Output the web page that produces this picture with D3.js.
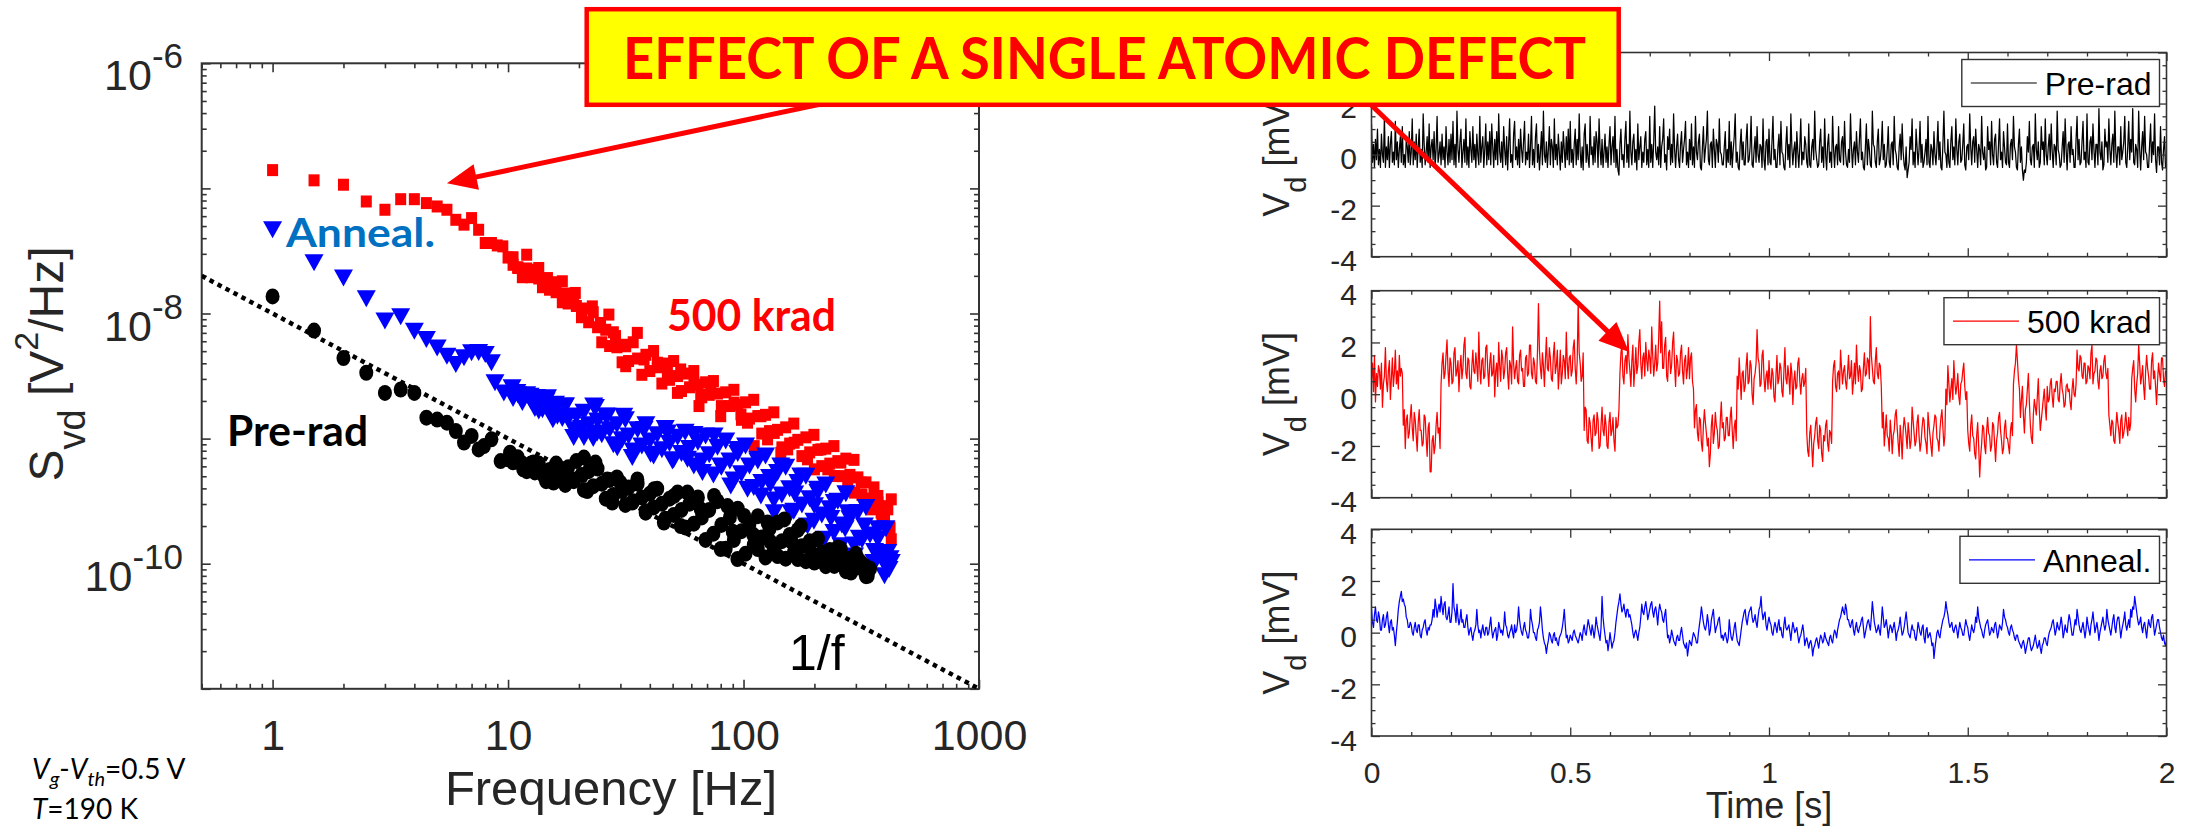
<!DOCTYPE html>
<html>
<head>
<meta charset="utf-8">
<script src="https://cdn.jsdelivr.net/npm/d3@7"></script>
<style>
  html, body { margin: 0; padding: 0; background: #ffffff; }
  svg { display: block; }
</style>
</head>
<body>
<svg id="fig" width="2189" height="832"></svg>
<script>
// ---------------- spectra: S_vd vs frequency ----------------
const FREQ_DOMAIN = [0.5, 1000];          // Hz
const PSD_DOMAIN = [1e-11, 1e-6];         // V^2/Hz
const FREQ_TICK_LABELS = ["1", "10", "100", "1000"];
const PSD_LABELED_DECADES = [1e-10, 1e-8, 1e-6];

// 500 krad (red squares), individually resolved points
const freq500 = [1,1.5,2,2.5,3,3.5,4,4.5,5,5.5,6,6.5,7,7.5,8,8.5,9,9.5,10,10.5,
  11,12,12.4,13.5,14.7,15.4,17,19.3,20.6,22.8,24.7,26.8,28.6,31.6,31.6,35.4,37.8,43.1,47.5,52.4,
  54.1,61.6,64.7,65.8,72.6,80,91.2,97.5,104,111,118.5,126.5,135,144,154,164,187,200,213,228,
  243,259,277,296,316,337,348,372,384,397,410,417,424,424];
const svd500 = [1.40e-7,1.16e-7,1.07e-7,7.86e-8,6.75e-8,8.2e-8,8.2e-8,7.63e-8,7.17e-8,6.75e-8,
  5.61e-8,5.13e-8,5.79e-8,4.67e-8,3.66e-8,3.66e-8,3.5e-8,3.44e-8,2.8e-8,2.45e-8,
  2.31e-8,2.95e-8,2.17e-8,2.31e-8,1.92e-8,1.65e-8,1.81e-8,1.46e-8,1.04e-8,1.14e-8,
  8.4e-9,9.8e-9,6.6e-9,5.47e-9,3.79e-9,7.0e-9,4.29e-9,4.04e-9,3.36e-9,2.32e-9,
  3.57e-9,2.79e-9,1.82e-9,2.25e-9,2.47e-9,1.51e-9,1.94e-9,1.56e-9,1.34e-9,8.71e-10,
  1.51e-9,9.86e-10,1.11e-9,7.71e-10,8.2e-10,9.27e-10,6.83e-10,5.68e-10,8.2e-10,5.68e-10,
  5.02e-10,6.43e-10,4.45e-10,3.70e-10,4.45e-10,3.27e-10,2.72e-10,3.48e-10,2.56e-10,2.26e-10,
  2.72e-10,1.88e-10,3.27e-10,1.57e-10];

// Annealed (blue down-triangles), individually resolved points
const freqAnneal = [1,1.5,2,2.5,3,3.5,4,4.5,5,5.5,6,6.5,7,7.5,8,8.5,8.8,9.6,10.4,10.9,
  11.5,12.4,13.2,13.5,14.7,15.9,16.2,17.5,19,21,23.1,23.5,23.9,26.4,29.1,31,33.7,37.8,40.3,47.5,
  49.9,57.8,61.6,66.9,75,80,88.3,94.2,104,115,118.5,130,135,144,159,165,175,187,200,206,
  220,235,243,259,270,277,296,310,326,348,360,372,390,397,410,415,424];
const svdAnneal = [4.67e-8,2.54e-8,1.92e-8,1.31e-8,8.7e-9,9.4e-9,7.2e-9,6.2e-9,5.31e-9,4.55e-9,
  3.91e-9,4.42e-9,4.85e-9,4.88e-9,4.70e-9,4.04e-9,2.79e-9,2.32e-9,2.55e-9,2.34e-9,
  1.94e-9,2.18e-9,2.13e-9,1.66e-9,2.12e-9,1.88e-9,1.51e-9,1.82e-9,1.02e-9,1.02e-9,
  1.82e-9,1.77e-9,1.11e-9,1.51e-9,8.46e-10,1.51e-9,7.05e-10,1.18e-9,7.48e-10,1.11e-9,
  6.61e-10,6.83e-10,1.08e-9,5.35e-10,1.05e-9,6.04e-10,4.18e-10,8.2e-10,3.94e-10,6.83e-10,
  3.48e-10,4.3e-10,2.56e-10,6.04e-10,2.56e-10,3.6e-10,5.02e-10,2.0e-10,2.9e-10,3.94e-10,
  1.57e-10,2.3e-10,3.08e-10,1.39e-10,1.9e-10,2.56e-10,1.15e-10,1.6e-10,2.0e-10,9.0e-11,
  1.25e-10,1.57e-10,1.05e-10,8.0e-11,1.23e-10,9.0e-11,1.02e-10];

// Pre-rad (black circles), individually resolved points
const freqPre = [1,1.5,2,2.5,3,3.5,4,4.5,5,5.5,6,6.5,7,7.5,7.9,8.5,9.3,10,10.2,11.6,
  12.8,14.2,15.6,17.2,19,21,21.7,23.5,26.4,27.7,30,33.7,35.4,38.4,41.7,45.9,50.7,54.1,57.8,65.8,
  75,80,85.5,90,94.2,100.6,110,115,126.5,130,139.6,149,160,170,175,190,200,206,230,243,
  259,270,286,300,316,330,337];
const svdPre = [1.37e-8,7.3e-9,4.4e-9,3.36e-9,2.32e-9,2.47e-9,2.32e-9,1.47e-9,1.42e-9,1.34e-9,
  1.15e-9,9.3e-10,1.05e-9,8.2e-10,8.71e-10,9.86e-10,6.61e-10,6.83e-10,7.71e-10,5.68e-10,
  6.43e-10,5.02e-10,4.45e-10,5.68e-10,4.72e-10,7.05e-10,3.81e-10,6.43e-10,4.72e-10,3.08e-10,
  4.45e-10,3.08e-10,4.72e-10,2.56e-10,3.94e-10,2.13e-10,3.48e-10,2.0e-10,3.7e-10,2.72e-10,
  3.48e-10,1.31e-10,2.89e-10,1.8e-10,1.09e-10,2.41e-10,1.7e-10,1.31e-10,2.13e-10,1.5e-10,
  1.15e-10,2.26e-10,1.5e-10,1.09e-10,2.0e-10,1.35e-10,1.02e-10,1.57e-10,1.2e-10,9.6e-11,
  1.31e-10,1.05e-10,8.5e-11,1.2e-10,1.02e-10,9.5e-11,8.0e-11];

// dense high-frequency part of the spectra (common frequency grid, log10 of S_vd)
const bandFreq = [10.5,11,11.5,12,12.5,13,13.5,14,14.5,15,
  15.5,16,17,17.5,18,19,19.5,20.5,21,22,
  23,24,25,26,27,28,29,30.5,31.5,32.5,
  34,35.5,37,38.5,40,41.5,43,45,46.5,48.5,
  50.5,52.5,54.5,56.5,59,61.5,64,66.5,69,71.5,
  74.5,77.5,80.5,84,87.5,91,94.5,98,102,106,
  110.5,115,119.5,124,129,134.5,139.5,145.5,151,157,
  163.5,170,177,184,191,199,207,215,223.5,232.5,
  242,251.5,261.5,272,283,294.5,306,318.5,331,344.5,
  358,372.5,387,402.5,419];
const bandLog500 = [-7.55,-7.63,-7.71,-7.64,-7.71,-7.65,-7.72,-7.79,-7.74,-7.81,
  -7.75,-7.83,-7.91,-7.84,-7.92,-7.85,-7.94,-8.03,-7.96,-8.07,
  -7.99,-8.11,-8.23,-8.13,-8.26,-8.15,-8.27,-8.39,-8.25,-8.38,
  -8.23,-8.36,-8.49,-8.33,-8.46,-8.30,-8.43,-8.56,-8.40,-8.53,
  -8.38,-8.50,-8.62,-8.48,-8.59,-8.46,-8.57,-8.67,-8.55,-8.65,
  -8.54,-8.64,-8.74,-8.63,-8.74,-8.61,-8.73,-8.85,-8.71,-8.84,
  -8.69,-8.82,-8.96,-8.81,-8.94,-8.79,-8.93,-9.07,-8.91,-9.04,
  -8.88,-9.01,-9.14,-8.99,-9.11,-8.97,-9.09,-9.22,-9.08,-9.20,
  -9.06,-9.18,-9.30,-9.16,-9.29,-9.17,-9.31,-9.45,-9.35,-9.48,
  -9.39,-9.51,-9.63,-9.54,-9.71];
const bandLogAnneal = [-8.68,-8.65,-8.69,-8.65,-8.70,-8.76,-8.70,-8.77,-8.70,-8.77,
  -8.85,-8.76,-8.84,-8.74,-8.84,-8.93,-8.82,-8.92,-8.79,-8.89,
  -9.00,-8.86,-8.97,-8.82,-8.93,-9.05,-8.89,-9.01,-8.85,-8.98,
  -9.10,-8.93,-9.06,-8.89,-9.02,-9.14,-8.97,-9.09,-8.92,-9.04,
  -9.17,-8.99,-9.12,-8.95,-9.08,-9.22,-9.03,-9.18,-8.98,-9.13,
  -9.29,-9.07,-9.23,-9.02,-9.18,-9.33,-9.12,-9.28,-9.06,-9.22,
  -9.39,-9.18,-9.35,-9.14,-9.31,-9.49,-9.27,-9.45,-9.23,-9.40,
  -9.58,-9.35,-9.53,-9.30,-9.48,-9.66,-9.43,-9.61,-9.37,-9.56,
  -9.75,-9.50,-9.69,-9.44,-9.64,-9.85,-9.59,-9.81,-9.55,-9.77,
  -9.99,-9.72,-9.94,-9.72,-9.96];
const bandLogPre = [-9.19,-9.15,-9.20,-9.26,-9.20,-9.27,-9.20,-9.27,-9.34,-9.25,
  -9.32,-9.20,-9.28,-9.37,-9.23,-9.34,-9.18,-9.29,-9.41,-9.26,
  -9.38,-9.24,-9.36,-9.48,-9.33,-9.45,-9.31,-9.42,-9.53,-9.39,
  -9.50,-9.36,-9.47,-9.58,-9.44,-9.55,-9.40,-9.52,-9.64,-9.48,
  -9.61,-9.43,-9.57,-9.71,-9.52,-9.68,-9.47,-9.63,-9.81,-9.57,
  -9.76,-9.50,-9.69,-9.88,-9.63,-9.81,-9.56,-9.74,-9.92,-9.68,
  -9.85,-9.62,-9.79,-9.95,-9.72,-9.88,-9.67,-9.82,-9.96,-9.77,
  -9.91,-9.73,-9.86,-9.98,-9.82,-9.94,-9.80,-9.91,-10.02,-9.89,
  -9.99,-9.87,-9.97,-10.06,-9.96,-10.04,-9.96,-10.04,-10.10,-10.04];

// 1/f reference line end points
const oneOverFFreq = [0.5, 1000];
const oneOverFSvd = [2e-8, 1e-11];

// ---------------- drain-voltage time traces (0 to 2 s, evenly sampled) ----------------
const TIME_DOMAIN = [0, 2];               // s
const VD_DOMAIN = [-4, 4];                // mV
const TIME_TICK_LABELS = ["0", "0.5", "1", "1.5", "2"];
const VD_TICK_LABELS = ["-4", "-2", "0", "2", "4"];

const vdPre = [
  1.2,-0.3,0.4,-0.5,0.6,-0.2,1.0,-0.4,0.2,-0.5,0.8,0.0,-0.3,1.5,-0.5,0.3,-0.2,0.7,-0.5,0.4,0.9,-0.3,0.1,-0.4,1.3,-0.2,0.5,-0.5,0.2,0.7,-0.3,1.1,-0.4,0.0,-0.5,0.6,0.3,-0.3,0.9,-0.4,
  0.1,1.4,-0.4,0.5,-0.2,0.8,-0.5,0.3,1.0,-0.3,0.2,-0.5,1.6,0.4,-0.4,0.1,0.7,-0.3,1.2,-0.5,0.3,0.6,-0.2,0.9,-0.5,0.2,1.5,-0.3,0.0,0.5,-0.4,0.8,-0.2,0.3,-0.5,1.1,0.1,-0.4,0.6,-0.3,
  0.8,-0.2,1.3,-0.4,0.4,-0.5,1.7,0.2,-0.3,0.5,1.0,-0.5,0.1,0.6,-0.3,1.4,-0.4,0.3,-0.5,0.9,0.2,-0.3,1.1,-0.2,0.4,-0.5,0.8,0.0,-0.4,1.5,-0.3,0.3,0.7,-0.5,0.2,1.2,-0.4,0.5,-0.2,0.9,
  -0.4,1.2,0.3,-0.5,0.6,-0.2,0.9,-0.4,1.6,0.1,-0.3,0.5,-0.5,1.1,0.2,-0.4,0.7,-0.6,0.4,1.4,-0.3,0.0,-0.5,0.8,1.3,-0.2,0.3,-0.4,0.6,-0.5,1.0,0.2,-0.3,0.5,1.3,-0.4,0.1,-0.2,0.8,-0.5,
  0.3,1.5,-0.4,0.2,-0.5,0.7,1.2,-0.3,0.4,-0.6,0.1,0.9,-0.4,1.7,0.0,-0.3,0.5,-0.5,0.2,1.1,-0.4,0.6,0.3,-0.5,1.4,-0.2,0.4,-0.4,0.8,0.1,-0.6,0.5,-0.3,0.9,0.2,-0.5,0.7,-0.2,1.0,-0.4,
  1.3,-0.3,0.2,-0.5,0.4,1.0,-0.4,0.6,-0.2,1.6,0.1,-0.5,0.3,-0.6,0.8,1.2,-0.3,0.4,-0.2,-0.5,1.5,0.0,0.3,-0.4,0.7,-0.3,0.9,0.5,-0.5,1.4,0.2,-0.4,0.6,-0.5,0.1,0.8,-0.3,0.3,-0.5,0.4,
  1.1,-0.4,0.3,0.7,-0.3,1.5,-0.5,0.2,-0.6,-0.8,0.4,1.0,-0.2,0.0,-0.5,0.6,1.3,-0.3,0.4,-0.5,1.7,0.1,-0.4,0.5,0.8,-0.3,0.2,-0.6,1.2,-0.2,0.3,0.7,-0.5,0.1,-0.3,0.6,0.9,-0.4,0.2,-0.5,
  1.5,-0.3,0.4,-0.5,0.5,1.9,0.1,-0.2,0.3,-0.4,1.1,-0.5,0.3,0.6,1.4,-0.3,0.0,-0.6,0.7,0.2,1.0,-0.4,0.4,-0.3,1.6,0.2,-0.5,0.3,0.8,-0.2,-0.5,0.4,0.9,-0.3,0.2,0.6,1.3,-0.4,0.1,-0.5,
  0.6,-0.2,1.2,-0.4,0.3,-0.5,1.5,0.1,-0.2,0.5,0.8,-0.5,-0.6,0.3,1.1,-0.3,0.2,0.6,1.7,-0.2,-0.4,0.4,0.5,-0.5,1.0,0.2,-0.5,0.6,0.4,-0.3,1.4,0.1,0.0,-0.4,-0.4,0.3,0.9,-0.5,0.2,-0.3,
  1.3,-0.4,0.5,-0.5,0.2,0.7,1.6,-0.3,0.1,-0.5,-0.6,0.4,1.0,-0.2,0.5,-0.4,-0.4,0.6,1.2,-0.3,-0.2,0.3,1.5,-0.4,-0.5,0.2,0.7,-0.3,1.1,0.0,-0.3,0.4,0.3,-0.5,1.4,-0.2,-0.6,0.5,0.6,-0.4,
  1.0,-0.3,-0.4,0.5,1.5,-0.2,0.2,-0.5,-0.5,0.3,0.8,-0.4,1.3,0.1,0.0,-0.5,-0.6,0.4,1.1,-0.2,0.4,-0.5,1.6,0.3,-0.4,0.2,0.5,-0.5,0.9,0.1,-0.5,0.3,1.4,-0.4,0.1,-0.2,0.7,0.4,-0.3,-0.5,
  1.2,-0.4,-0.5,0.3,0.6,-0.2,1.7,0.2,-0.2,-0.5,-0.4,0.5,1.0,-0.3,0.3,-0.5,1.4,0.0,-0.6,0.4,0.8,-0.3,0.1,-0.5,1.5,0.2,-0.5,0.3,0.4,-0.4,1.1,-0.2,-0.3,0.5,0.7,-0.4,1.3,0.1,-0.4,-0.5,
  0.2,-0.3,1.6,0.3,-0.5,0.2,0.5,-0.4,0.9,0.1,-0.3,0.6,1.4,-0.2,0.1,-0.5,-0.6,0.3,1.2,-0.4,0.6,0.2,-0.4,-0.5,1.7,0.4,0.3,-0.3,-0.5,0.5,1.0,-0.4,-0.2,0.3,1.3,-0.2,0.4,-0.5,-0.4,0.2,
  1.1,-0.3,-0.5,0.4,0.5,-0.4,1.5,0.2,0.0,-0.5,-0.6,0.3,0.8,-0.2,1.2,0.1,-0.4,-0.6,0.3,-0.9,-0.6,-0.3,0.7,0.2,1.4,-0.4,0.1,-0.5,1.0,0.3,-0.4,0.2,1.3,-0.3,0.4,-0.5,-0.3,0.1,0.6,-0.4,
  1.5,-0.3,-0.5,0.4,0.2,-0.4,0.9,0.0,-0.4,0.3,1.3,-0.2,0.5,-0.5,-0.6,0.4,1.7,0.1,0.0,-0.5,0.6,-0.3,-0.5,0.5,1.1,-0.2,0.3,-0.4,1.4,0.2,-0.4,0.5,0.8,-0.3,-0.2,0.4,1.2,-0.4,-0.6,0.3,
  0.4,-0.2,1.6,0.3,-0.4,0.5,0.7,-0.3,1.0,0.2,-0.5,0.4,0.2,-0.4,1.5,0.1,-0.2,0.3,-0.6,-0.5,1.1,0.2,0.5,-0.4,1.3,0.0,-0.4,0.6,0.8,-0.3,-0.5,0.4,1.4,-0.2,0.1,-0.5,0.9,0.3,-0.3,-0.4,
  1.2,-0.3,-0.5,0.4,0.6,-0.2,1.5,0.3,0.1,-0.5,-0.6,0.4,1.0,-0.3,0.3,-0.6,-1.0,-0.6,-0.7,-0.3,0.7,0.1,1.3,-0.2,-0.4,0.3,0.4,-0.5,1.6,0.2,-0.2,0.5,-0.5,-0.3,1.1,0.2,0.5,-0.4,1.4,0.0,
  -0.4,0.3,0.8,-0.2,1.2,0.1,-0.5,0.4,0.3,-0.4,1.7,0.2,0.0,-0.5,-0.4,0.3,0.9,-0.3,1.4,0.2,-0.6,0.4,0.5,-0.3,1.1,0.0,0.2,-0.5,-0.5,0.6,1.5,-0.2,0.6,-0.4,-0.3,0.5,1.3,-0.2,0.1,-0.5,
  1.6,-0.3,-0.4,0.5,0.7,-0.2,1.2,0.2,-0.5,0.4,0.4,-0.4,1.8,0.1,-0.2,0.5,-0.6,-0.4,1.0,0.3,0.5,-0.3,1.4,0.2,-0.4,0.4,0.8,-0.3,1.7,0.1,-0.5,0.3,0.3,-0.4,1.1,-0.2,0.1,0.5,1.5,-0.3,
  -0.5,0.3,1.3,-0.2,0.6,0.1,1.8,-0.3,-0.4,0.4,0.2,-0.5,1.7,0.2,-0.6,0.3,0.9,-0.2,1.5,0.1,0.0,-0.5,-0.5,0.4,1.2,-0.3,0.5,0.0,1.6,-0.2,-0.7,0.3,0.3,-0.4,1.1,-0.3,-0.6,0.2,0.7,-0.5,
  -0.4];

const vd500 = [
  0.6,1.2,0.1,1.5,-0.3,0.8,0.3,1.1,0.9,0.2,1.2,-0.5,0.4,0.7,1.8,0.5,0.1,0.9,1.3,-0.2,0.6,1.4,0.3,0.8,1.7,0.4,0.9,0.2,1.5,0.7,1.0,0.8,-1.2,-0.6,-2.1,-1.0,-0.8,-1.7,-1.5,-0.9,
  -0.4,-1.3,-1.8,-0.7,-1.0,-1.6,-2.2,-1.1,-0.6,-1.4,-1.4,-2.0,-1.9,-0.8,-0.9,-1.7,-2.4,-1.3,-1.1,-3.0,-3.0,-1.8,-1.6,-2.3,-2.0,-1.2,-0.7,-1.5,-1.3,-2.1,0.4,1.2,1.6,0.6,0.8,1.5,2.1,0.9,0.3,1.4,
  1.2,0.4,0.5,1.6,1.8,0.7,0.9,1.3,0.1,1.0,1.5,0.6,1.0,1.9,2.2,0.8,0.6,1.4,1.3,0.3,0.2,1.1,1.7,0.9,0.8,1.6,1.1,0.5,2.4,1.0,0.4,1.3,1.4,0.6,0.7,1.8,1.9,0.9,0.3,1.2,
  1.6,0.7,0.8,1.5,-0.1,0.9,1.2,0.3,2.0,1.1,0.5,1.7,1.4,0.6,0.9,1.6,1.8,0.8,0.2,1.3,1.1,0.4,2.6,1.2,0.6,1.0,1.3,0.5,0.4,1.5,1.7,0.9,1.0,0.3,0.3,1.4,1.5,0.7,0.8,1.9,
  1.9,0.8,0.6,1.4,1.2,0.5,0.4,1.6,3.5,1.7,1.0,0.6,1.6,1.1,0.3,1.3,2.2,1.0,0.9,1.8,1.4,0.6,0.5,1.5,2.0,0.8,1.1,1.7,0.2,0.9,1.7,0.4,0.8,1.5,1.3,0.6,2.4,1.2,0.6,1.4,
  1.5,0.7,0.9,1.8,2.1,1.0,0.4,1.3,3.6,1.6,1.2,0.5,0.7,1.6,-1.4,-0.5,-0.6,-1.8,-1.9,-0.9,-1.1,-1.7,-2.2,-1.0,-0.8,-1.6,-1.5,-0.7,-1.0,-2.1,-2.0,-1.2,-0.5,-1.4,-1.6,-0.8,-1.2,-2.0,-2.1,-1.1,
  -0.7,-1.6,-1.4,-0.9,-1.8,-2.2,-0.9,-1.3,-1.2,-0.6,0.8,1.6,1.9,0.7,0.4,1.3,1.5,0.8,2.3,1.4,0.9,0.3,1.3,1.9,0.3,1.0,1.8,0.8,1.1,2.0,2.5,1.2,0.6,1.4,1.6,0.7,2.0,1.3,0.9,1.7,
  1.4,0.8,2.6,1.5,0.7,1.2,1.9,0.9,1.2,2.2,3.6,1.6,2.8,1.0,1.0,1.9,2.2,0.7,0.5,1.6,1.7,0.8,1.1,2.0,2.4,1.1,0.3,1.5,1.3,0.7,0.8,1.6,1.9,0.9,0.4,1.3,1.5,0.6,1.0,1.8,
  0.6,1.4,1.6,0.5,0.2,-1.3,-0.6,-0.4,-1.5,-1.8,-0.9,-1.0,-1.9,-2.2,-1.2,-0.6,-1.1,-1.5,-2.0,-1.7,-2.8,-2.3,-1.2,-0.8,-1.9,-1.5,-0.7,-1.2,-1.4,-2.1,-2.0,-1.0,-0.3,-1.3,-1.1,-1.8,-1.7,-0.9,-0.9,-1.6,
  -1.6,-0.9,-0.5,-1.4,-2.1,-1.3,-1.0,-1.8,0.7,0.2,1.4,0.6,-0.2,0.8,0.9,0.1,0.3,1.1,1.6,0.4,0.5,1.3,1.1,0.0,-0.4,0.6,0.8,1.2,2.5,1.4,1.2,0.3,0.4,1.5,1.7,0.6,0.1,0.7,0.9,0.2,
  1.3,0.5,0.2,1.0,0.8,-0.1,-0.3,0.7,1.5,0.4,0.6,1.2,1.0,0.1,-0.1,0.9,1.8,0.6,0.4,1.1,0.7,0.0,1.2,0.8,-0.4,0.5,0.9,0.2,0.3,1.2,1.4,0.5,0.0,0.6,0.8,0.3,0.5,1.0,-1.5,-2.2,
  -2.4,-1.5,-1.2,-2.0,-2.8,-1.9,-1.6,-1.1,-0.9,-1.8,-2.1,-1.2,-1.4,-2.3,-2.6,-1.6,-1.8,-1.2,-1.0,-1.9,-2.2,-1.4,-1.5,-1.9,0.5,1.1,1.3,0.3,0.1,0.8,0.9,0.2,1.7,1.0,0.4,0.9,1.1,0.5,0.2,0.8,
  1.5,0.6,0.7,1.3,0.0,0.5,1.2,0.4,1.9,1.0,0.5,1.1,0.9,0.1,0.2,1.0,1.6,0.7,0.8,1.4,1.3,0.6,3.0,1.5,1.0,0.5,0.4,1.3,1.8,0.8,0.6,1.2,1.1,0.3,-1.3,-0.7,-2.0,-1.4,-0.8,-1.6,
  -1.7,-2.2,-1.0,-1.5,-2.3,-1.6,-1.4,-0.8,-0.6,-1.3,-1.9,-2.4,-1.2,-1.7,-2.5,-1.4,-0.9,-1.2,-1.6,-2.1,-1.1,-1.5,-2.1,-1.8,-0.5,-1.0,-1.5,-2.0,-1.8,-1.1,-0.8,-1.6,-2.2,-1.9,-1.3,-0.9,-1.0,-1.7,-1.9,-2.3,
  -0.7,-1.2,-1.6,-2.0,-2.4,-1.5,-1.2,-0.8,-0.9,-1.7,-1.8,-2.2,-1.4,-0.9,-0.6,-1.3,-2.0,-1.6,0.2,-0.4,1.1,0.4,-0.3,0.2,0.6,-0.2,1.3,0.5,0.0,0.3,0.8,-0.1,-0.4,0.4,0.5,0.9,1.2,0.3,-0.2,0.1,
  -1.4,-1.9,-2.2,-1.2,-0.8,-1.6,-1.7,-2.3,-2.5,-1.6,-1.1,-2.0,-3.2,-2.4,-1.9,-1.2,-1.3,-2.0,-2.3,-1.4,-0.9,-1.5,-1.6,-2.2,-2.0,-1.1,-1.2,-1.9,-2.6,-1.8,-1.5,-0.9,-0.7,-1.4,-1.8,-2.3,-2.1,-1.3,-1.0,-1.7,
  -1.7,-2.0,-2.3,-1.4,-1.1,-1.6,0.4,0.9,1.2,1.9,1.3,0.6,0.2,-0.9,-0.2,0.3,-0.8,-1.5,-0.6,-0.4,0.2,0.8,-0.3,-1.2,-1.7,-1.9,-0.8,-0.2,-0.5,-0.8,-0.1,0.6,-0.6,-1.4,-1.0,-0.6,-0.2,0.2,-0.5,-1.0,
  0.3,-0.3,-0.2,0.4,0.6,-0.1,-0.5,0.2,0.1,0.5,0.5,-0.2,-0.3,0.4,0.8,0.2,0.0,-0.5,-0.4,0.3,0.4,0.1,0.2,-0.3,-0.6,0.2,0.6,0.0,-0.1,0.4,1.7,1.0,0.9,1.5,1.4,0.7,0.6,1.2,1.2,0.4,
  0.5,1.1,1.0,0.6,1.6,1.9,0.4,0.8,0.9,1.4,1.3,0.5,0.2,0.9,1.1,0.6,0.7,1.3,1.5,0.8,0.6,1.0,-0.8,-1.2,-1.6,-1.0,-1.1,-1.8,-1.9,-1.3,-0.7,-1.1,-1.4,-1.9,-1.0,-0.8,-1.7,-1.5,-1.2,-0.7,
  -1.2,-1.6,-0.9,-1.4,-1.1,0.6,1.0,1.3,0.2,-0.3,0.4,0.8,1.9,1.2,0.4,0.7,1.1,0.3,-0.2,0.9,1.5,1.0,0.7,0.2,0.2,1.3,1.6,0.6,0.9,0.3,-0.4,0.5,1.2,0.8,0.5,1.4,1.4,0.6,0.3,0.9,
  0.8];

const vdAnneal = [
  0.9,0.4,0.2,0.7,1.0,0.5,0.4,0.8,0.6,0.1,0.1,0.5,0.7,0.2,0.3,0.6,0.8,0.3,0.0,0.4,0.5,0.1,0.2,-0.1,-0.5,0.0,0.4,0.9,1.2,1.4,1.6,1.2,1.3,1.1,1.0,0.6,0.5,0.2,0.2,0.4,
  0.3,0.0,-0.1,0.2,0.4,0.1,0.0,0.3,0.3,-0.1,-0.2,0.1,0.2,0.4,0.5,0.1,-0.1,0.2,0.1,0.3,0.3,0.5,0.9,0.6,1.3,1.0,0.6,0.9,1.1,0.8,1.4,1.0,0.7,1.1,1.2,0.6,0.5,0.7,1.0,0.4,
  0.4,0.8,1.9,1.0,0.8,0.4,1.1,0.6,0.3,0.5,0.9,0.4,0.5,0.2,0.2,0.5,0.7,0.2,-0.1,0.1,0.2,-0.1,-0.3,0.0,0.1,0.3,0.9,0.3,0.0,0.1,-0.2,0.1,0.3,0.0,-0.1,0.2,0.2,-0.1,0.0,0.3,
  0.6,0.1,-0.2,0.0,0.1,0.2,-0.3,-0.1,0.4,0.2,0.0,0.1,-0.1,0.2,0.8,0.3,0.2,-0.1,-0.2,0.0,0.1,0.3,0.0,-0.2,0.3,0.0,0.1,0.4,1.0,0.5,0.2,0.0,-0.1,0.2,0.4,0.1,0.0,-0.2,-0.2,0.1,
  0.9,0.5,0.3,0.0,0.0,-0.2,-0.3,0.1,0.2,0.4,1.0,0.6,0.1,-0.2,-0.4,-0.5,-0.8,-0.5,-0.3,0.0,-0.1,-0.3,-0.4,-0.1,0.0,-0.3,-0.2,-0.4,-0.5,-0.2,-0.1,0.0,0.2,0.5,0.9,0.3,-0.2,-0.1,-0.4,-0.3,
  -0.1,-0.2,-0.3,0.0,0.1,-0.1,-0.2,-0.3,-0.4,-0.2,0.0,-0.1,-0.3,0.1,0.3,0.0,-0.1,0.2,0.5,0.3,0.1,-0.1,0.3,0.1,-0.2,0.1,0.6,0.3,0.1,-0.1,-0.3,0.2,1.4,0.6,0.2,-0.1,-0.4,-0.3,-0.7,-0.4,
  0.0,-0.3,-0.6,-0.4,-0.3,0.0,0.4,0.7,1.0,1.2,1.5,1.1,0.8,0.9,1.1,0.8,0.6,0.9,0.9,0.6,0.7,0.5,0.3,0.0,-0.2,0.0,0.1,-0.1,-0.3,0.0,0.2,0.6,1.1,0.8,0.7,1.0,1.2,0.9,0.5,0.7,
  0.9,1.1,1.2,0.8,0.6,0.9,1.0,0.7,0.3,0.8,1.1,0.9,0.8,0.5,0.4,0.7,0.9,0.3,-0.2,-0.1,-0.4,-0.2,0.1,-0.1,-0.3,-0.4,-0.5,-0.2,-0.1,-0.3,-0.3,0.0,0.2,-0.1,-0.4,-0.5,-0.6,-0.4,-0.9,-0.6,
  -0.3,-0.4,-0.5,-0.2,0.0,-0.1,-0.2,-0.4,-0.4,0.0,0.3,0.6,1.0,0.7,0.4,0.2,0.1,0.3,0.7,0.4,-0.1,0.1,0.5,0.7,0.9,0.4,0.0,0.2,0.3,0.5,0.6,0.2,-0.2,-0.1,-0.3,-0.1,0.0,-0.2,-0.4,-0.2,
  0.5,0.1,-0.2,-0.3,-0.1,0.2,0.4,0.0,-0.3,-0.4,-0.5,-0.2,0.1,0.4,0.6,0.8,0.9,0.5,0.3,0.6,0.8,0.9,1.0,0.6,0.4,0.5,0.7,0.4,0.2,0.6,0.9,1.0,1.4,0.8,0.5,0.7,0.8,0.3,0.1,0.4,
  0.6,0.4,0.3,0.0,-0.1,0.2,0.4,0.2,0.0,0.3,0.5,0.1,0.2,-0.1,-0.2,0.3,0.6,0.2,0.1,0.2,0.3,0.0,-0.3,0.1,0.4,0.2,0.0,0.1,0.2,-0.1,-0.4,-0.2,-0.1,0.1,0.3,0.0,-0.5,-0.3,-0.2,-0.4,
  -0.6,-0.4,-0.3,-0.5,-0.9,-0.6,-0.5,-0.3,-0.2,-0.4,-0.6,-0.3,-0.1,-0.2,-0.4,-0.3,0.0,-0.2,-0.3,-0.4,-0.5,-0.2,-0.1,-0.3,-0.4,-0.1,0.1,0.0,-0.2,0.1,0.3,0.5,0.6,0.8,1.0,0.8,0.7,1.1,0.9,0.5,
  0.5,0.3,0.2,0.4,0.5,0.1,-0.1,0.2,0.4,0.1,0.0,0.2,0.3,0.5,0.6,0.2,-0.2,0.0,0.2,0.4,0.5,0.3,0.1,0.6,1.2,0.8,0.4,0.2,0.0,0.1,0.3,0.1,-0.1,0.4,1.0,0.6,0.2,0.3,0.5,0.2,
  -0.2,0.1,0.3,0.2,0.0,0.2,0.4,0.1,-0.3,0.0,0.1,0.3,0.6,0.2,-0.1,0.0,0.2,0.5,0.8,0.4,0.0,-0.1,-0.2,0.1,0.3,0.1,0.1,-0.2,-0.3,0.0,0.4,0.2,0.0,-0.1,0.2,0.3,-0.2,-0.4,0.1,0.2,
  -0.2,-0.1,0.0,-0.2,-0.5,-0.4,-1.0,-0.6,-0.3,0.0,0.1,-0.1,-0.2,0.1,0.3,0.5,0.6,0.8,1.2,0.9,0.7,0.4,0.2,0.3,0.4,0.1,0.0,0.2,0.3,0.1,-0.2,0.1,0.4,0.2,0.1,-0.1,-0.1,0.2,0.5,0.3,
  0.2,-0.1,-0.3,0.0,0.3,0.1,0.0,0.2,0.6,0.4,1.0,0.6,0.4,0.2,0.1,-0.1,-0.2,0.1,0.3,0.4,0.5,0.2,-0.1,0.0,0.2,0.1,0.0,0.3,0.4,0.1,-0.2,0.0,0.3,0.2,0.1,0.4,0.9,0.6,0.5,0.3,
  0.2,0.0,-0.1,0.2,0.3,0.1,0.0,-0.2,-0.3,-0.1,-0.1,-0.3,-0.4,-0.5,-0.6,-0.4,-0.3,-0.5,-0.8,-0.6,-0.4,-0.2,-0.2,-0.5,-0.7,-0.6,-0.5,-0.3,-0.1,-0.4,-0.6,-0.5,-0.3,-0.6,-0.8,-0.5,-0.4,-0.2,-0.2,-0.4,
  -0.5,-0.2,0.0,0.1,0.2,0.4,0.5,0.2,-0.1,0.1,0.4,0.2,0.1,0.3,0.6,0.3,-0.2,0.0,0.3,0.1,0.0,0.4,0.7,0.5,0.2,-0.1,-0.1,0.2,0.5,0.3,0.9,0.6,0.3,0.1,0.0,0.2,0.4,0.1,-0.2,0.1,
  0.6,0.3,0.1,-0.1,0.3,0.5,0.8,0.4,0.0,0.2,0.4,0.1,-0.3,0.0,0.2,0.4,0.6,0.3,0.1,0.3,0.9,0.5,0.3,0.1,-0.1,0.2,0.5,0.7,0.2,0.0,0.4,0.6,0.6,0.2,-0.2,0.1,0.3,0.5,0.8,0.3,
  0.1,0.3,0.5,0.2,0.9,0.6,1.0,0.9,1.4,1.1,0.8,0.5,0.3,0.4,0.6,0.2,0.0,0.3,0.4,0.1,-0.2,0.2,0.5,0.3,0.2,0.6,0.7,0.3,-0.1,0.1,0.3,0.5,0.5,0.2,0.0,-0.2,-0.3,-0.1,-0.4,-0.5,
  -0.3];

// ---------------- drawing ----------------
const HELV = "'Liberation Sans', Arial, Helvetica, sans-serif";
const CAL = "Lato, 'Open Sans', 'Noto Sans', sans-serif";
const AXIS_COLOR = "#333333";

const svg = d3.select("#fig");
svg.append("rect").attr("width", 2189).attr("height", 832).attr("fill", "#ffffff");

const isDecade = v => Math.abs(Math.log10(v) - Math.round(Math.log10(v))) < 1e-9;
const zip = (a, b) => d3.range(Math.min(a.length, b.length)).map(i => [a[i], b[i]]);
const zipLog = (a, b) => d3.range(Math.min(a.length, b.length)).map(i => [a[i], Math.pow(10, b[i])]);

// inward ticks on all four sides of a box
function boxTicks(g, xs, ys, box, xVals, yVals, len, width) {
  const parts = [
    [d3.axisBottom(xs).tickValues(xVals), `translate(0,${box.bottom})`],
    [d3.axisTop(xs).tickValues(xVals), `translate(0,${box.top})`],
    [d3.axisLeft(ys).tickValues(yVals), `translate(${box.left},0)`],
    [d3.axisRight(ys).tickValues(yVals), `translate(${box.right},0)`]
  ];
  parts.forEach(([ax, tr]) => {
    const a = g.append("g").attr("transform", tr)
      .call(ax.tickSizeInner(-len).tickSizeOuter(0).tickFormat(""));
    a.select(".domain").remove();
    a.selectAll(".tick line").attr("stroke", AXIS_COLOR).attr("stroke-width", width);
    a.selectAll(".tick text").remove();
  });
}

// ===== spectrum panel =====
const S = { left: 201.7, right: 979, top: 63.3, bottom: 688.8 };
const xF = d3.scaleLog().domain(FREQ_DOMAIN).range([S.left, S.right]);
const yS = d3.scaleLog().domain(PSD_DOMAIN).range([S.bottom, S.top]);

const gS = svg.append("g");
const fAll = xF.ticks(), sAll = yS.ticks();
boxTicks(gS, xF, yS, S, fAll.filter(v => !isDecade(v)), sAll.filter(v => !isDecade(v)), 5, 1.6);
boxTicks(gS, xF, yS, S, fAll.filter(isDecade), sAll.filter(isDecade), 9, 1.6);

gS.append("rect").attr("x", S.left).attr("y", S.top)
  .attr("width", S.right - S.left).attr("height", S.bottom - S.top)
  .attr("fill", "none").attr("stroke", AXIS_COLOR).attr("stroke-width", 2);

// frequency tick labels
const fLab = gS.append("g").attr("transform", `translate(0,${S.bottom})`)
  .call(d3.axisBottom(xF).tickValues(FREQ_TICK_LABELS.map(Number)).tickSize(0)
    .tickFormat((d, i) => FREQ_TICK_LABELS[i]));
fLab.select(".domain").remove();
fLab.selectAll(".tick text").attr("y", 61.2).attr("dy", null)
  .attr("font-family", HELV).attr("font-size", 43).attr("fill", "#262626");

// PSD tick labels with superscript exponents
const sLab = gS.append("g").attr("transform", `translate(${S.left},0)`)
  .call(d3.axisLeft(yS).tickValues(PSD_LABELED_DECADES).tickSize(0).tickFormat(""));
sLab.select(".domain").remove();
sLab.selectAll(".tick text").each(function (d) {
  const t = d3.select(this).attr("x", -18.7).attr("y", 26.5).attr("dy", null)
    .attr("text-anchor", "end").attr("font-family", HELV).attr("fill", "#262626");
  t.append("tspan").attr("font-size", 43).text("10");
  t.append("tspan").attr("font-size", 35).attr("dy", -22)
    .text(String(Math.round(Math.log10(d))).replace("\u2212", "-"));
});

// axis titles
gS.append("text").attr("x", 611).attr("y", 805).attr("text-anchor", "middle")
  .attr("font-family", HELV).attr("font-size", 49).attr("fill", "#262626")
  .text("Frequency [Hz]");

const yt = gS.append("text").attr("transform", "translate(63,364) rotate(-90)")
  .attr("text-anchor", "middle").attr("font-family", HELV).attr("font-size", 48)
  .attr("fill", "#262626");
yt.append("tspan").text("S");
yt.append("tspan").attr("font-size", 38).attr("dy", 22).text("vd");
yt.append("tspan").attr("dy", -22).text(" [V");
yt.append("tspan").attr("font-size", 34).attr("dy", -25).text("2");
yt.append("tspan").attr("dy", 25).text("/Hz]");

// clip for marks
svg.append("clipPath").attr("id", "clipS").append("rect")
  .attr("x", S.left).attr("y", S.top).attr("width", S.right - S.left).attr("height", S.bottom - S.top);
const marks = gS.append("g").attr("clip-path", "url(#clipS)");

// 1/f guide
marks.append("path")
  .datum(zip(oneOverFFreq, oneOverFSvd))
  .attr("d", d3.line().x(d => xF(d[0])).y(d => yS(d[1])))
  .attr("fill", "none").attr("stroke", "#000").attr("stroke-width", 4.5)
  .attr("stroke-dasharray", "4.5,4.5");

const pts500 = zip(freq500, svd500).concat(zipLog(bandFreq, bandLog500));
const ptsAnneal = zip(freqAnneal, svdAnneal).concat(zipLog(bandFreq, bandLogAnneal));
const ptsPre = zip(freqPre, svdPre).concat(zipLog(bandFreq, bandLogPre));

// 500 krad squares
marks.append("g").selectAll("rect").data(pts500).join("rect")
  .attr("x", d => xF(d[0]) - 5.5).attr("y", d => yS(d[1]) - 6)
  .attr("width", 11).attr("height", 12).attr("fill", "#ff0000");

// annealed down-triangles
marks.append("g").selectAll("path").data(ptsAnneal).join("path")
  .attr("transform", d => `translate(${xF(d[0])},${yS(d[1])})`)
  .attr("d", "M-9.5,-8.5L9.5,-8.5L0,8.5Z").attr("fill", "#0000ff");

// pre-rad circles
marks.append("g").selectAll("ellipse").data(ptsPre).join("ellipse")
  .attr("cx", d => xF(d[0])).attr("cy", d => yS(d[1]))
  .attr("rx", 7).attr("ry", 8).attr("fill", "#000");

// in-plot labels
gS.append("text").attr("x", 789).attr("y", 670).attr("font-family", HELV)
  .attr("font-size", 50).attr("fill", "#000").text("1/f");
gS.append("text").attr("x", 286).attr("y", 247).attr("font-family", CAL).attr("font-weight", 700)
  .attr("font-size", 40).attr("fill", "#0070c0")
  .attr("textLength", 149).attr("lengthAdjust", "spacingAndGlyphs").text("Anneal.");
gS.append("text").attr("x", 667).attr("y", 331).attr("font-family", CAL).attr("font-weight", 700)
  .attr("font-size", 44).attr("fill", "#ff0000")
  .attr("textLength", 169).attr("lengthAdjust", "spacingAndGlyphs").text("500 krad");
gS.append("text").attr("x", 227).attr("y", 446).attr("font-family", CAL).attr("font-weight", 700)
  .attr("font-size", 42).attr("fill", "#000")
  .attr("textLength", 141).attr("lengthAdjust", "spacingAndGlyphs").text("Pre-rad");

// bias / temperature note
const n1 = svg.append("text").attr("x", 32).attr("y", 779).attr("font-family", CAL)
  .attr("font-size", 28).attr("fill", "#000");
n1.append("tspan").attr("font-style", "italic").text("V");
n1.append("tspan").attr("font-style", "italic").attr("font-size", 20).attr("dy", 7).text("g");
n1.append("tspan").attr("dy", -7).text("-");
n1.append("tspan").attr("font-style", "italic").text("V");
n1.append("tspan").attr("font-style", "italic").attr("font-size", 20).attr("dy", 7).text("th");
n1.append("tspan").attr("dy", -7).text("=0.5 V");
const n2 = svg.append("text").attr("x", 32).attr("y", 819).attr("font-family", CAL)
  .attr("font-size", 28).attr("fill", "#000");
n2.append("tspan").attr("font-style", "italic").text("T");
n2.append("tspan").text("=190 K");

// ===== time-trace panels =====
const T = { left: 1371.5, right: 2166.5 };
const xT = d3.scaleLinear().domain(TIME_DOMAIN).range([T.left, T.right]);
const panels = [
  { top: 52.5, bottom: 256.7, data: vdPre, color: "#000000", name: "Pre-rad" },
  { top: 290.7, bottom: 497.7, data: vd500, color: "#ff0000", name: "500 krad" },
  { top: 529.3, bottom: 736.0, data: vdAnneal, color: "#0000ff", name: "Anneal." }
];
const tMajor = TIME_TICK_LABELS.map(Number);
const tMinor = d3.range(1, 20).map(i => i / 10).filter(v => !tMajor.some(m => Math.abs(m - v) < 1e-9));
const vMajor = VD_TICK_LABELS.map(Number);
const vMinor = d3.range(-7, 8).map(i => i / 2).filter(v => !vMajor.includes(v));

panels.forEach((p, k) => {
  const box = { left: T.left, right: T.right, top: p.top, bottom: p.bottom };
  const yV = d3.scaleLinear().domain(VD_DOMAIN).range([p.bottom, p.top]);
  const g = svg.append("g");

  const cid = "clipT" + k;
  svg.append("clipPath").attr("id", cid).append("rect")
    .attr("x", box.left).attr("y", box.top).attr("width", box.right - box.left).attr("height", box.bottom - box.top);

  // trace (samples evenly spaced over the 2 s record)
  const n = p.data.length;
  const t = d3.range(n).map(i => TIME_DOMAIN[0] + (TIME_DOMAIN[1] - TIME_DOMAIN[0]) * i / (n - 1));
  g.append("path").attr("clip-path", `url(#${cid})`)
    .datum(zip(t, p.data))
    .attr("d", d3.line().x(d => xT(d[0])).y(d => yV(d[1])))
    .attr("fill", "none").attr("stroke", p.color).attr("stroke-width", 1.25)
    .attr("stroke-linejoin", "round");

  boxTicks(g, xT, yV, box, tMinor, vMinor, 4, 1.3);
  boxTicks(g, xT, yV, box, tMajor, vMajor, 8.5, 1.3);
  g.append("rect").attr("x", box.left).attr("y", box.top)
    .attr("width", box.right - box.left).attr("height", box.bottom - box.top)
    .attr("fill", "none").attr("stroke", AXIS_COLOR).attr("stroke-width", 1.6);

  // y tick labels
  const yl = g.append("g").attr("transform", `translate(${box.left},0)`)
    .call(d3.axisLeft(yV).tickValues(vMajor).tickSize(0).tickFormat((d, i) => VD_TICK_LABELS[i]));
  yl.select(".domain").remove();
  yl.selectAll(".tick text").attr("x", -14.5).attr("dy", "0.47em")
    .attr("font-family", HELV).attr("font-size", 30).attr("fill", "#262626");

  // y title
  const yt2 = g.append("text")
    .attr("transform", `translate(1289,${(p.top + p.bottom) / 2}) rotate(-90)`)
    .attr("text-anchor", "middle").attr("font-family", HELV).attr("font-size", 36).attr("fill", "#262626");
  yt2.append("tspan").text("V");
  yt2.append("tspan").attr("font-size", 29).attr("dy", 17).text("d");
  yt2.append("tspan").attr("dy", -17).text(" [mV]");

  // legend
  const lg = g.append("g");
  const lt = lg.append("text").attr("font-family", HELV).attr("font-size", 32).attr("fill", "#000").text(p.name);
  const tw = lt.node().getComputedTextLength();
  const lh = 47, pad = 9, lineLen = 66, gap = 8;
  const lw = pad + lineLen + gap + tw + 8;
  const lx = box.right - 7 - lw, ly = box.top + 7;
  lg.insert("rect", "text").attr("x", lx).attr("y", ly).attr("width", lw).attr("height", lh)
    .attr("fill", "#fff").attr("stroke", "#333").attr("stroke-width", 1.4);
  lg.append("line").attr("x1", lx + pad).attr("x2", lx + pad + lineLen)
    .attr("y1", ly + lh / 2).attr("y2", ly + lh / 2).attr("stroke", p.color).attr("stroke-width", 1.2);
  lt.attr("x", lx + pad + lineLen + gap).attr("y", ly + 35.5);

  if (k === panels.length - 1) {
    const xl = g.append("g").attr("transform", `translate(0,${box.bottom})`)
      .call(d3.axisBottom(xT).tickValues(tMajor).tickSize(0).tickFormat((d, i) => TIME_TICK_LABELS[i]));
    xl.select(".domain").remove();
    xl.selectAll(".tick text").attr("y", 47).attr("dy", null)
      .attr("font-family", HELV).attr("font-size", 30).attr("fill", "#262626");
    g.append("text").attr("x", (T.left + T.right) / 2).attr("y", 818).attr("text-anchor", "middle")
      .attr("font-family", HELV).attr("font-size", 36).attr("fill", "#262626").text("Time [s]");
  }
  p.yScale = yV;
});

// ===== callout arrows and banner =====
function arrow(from, tip) {
  const dx = tip[0] - from[0], dy = tip[1] - from[1];
  const L = Math.hypot(dx, dy), ux = dx / L, uy = dy / L;
  const hl = 30, hw = 13;
  const bx = tip[0] - ux * hl, by = tip[1] - uy * hl;
  svg.append("line").attr("x1", from[0]).attr("y1", from[1]).attr("x2", bx + ux * 2).attr("y2", by + uy * 2)
    .attr("stroke", "#ff0000").attr("stroke-width", 5);
  svg.append("path")
    .attr("d", `M${tip[0]},${tip[1]}L${bx - uy * hw},${by + ux * hw}L${bx + uy * hw},${by - ux * hw}Z`)
    .attr("fill", "#ff0000");
}
// spectrum callout points at the 500 krad plateau, trace callout at a switching event
arrow([840, 100], [xF(5.5), yS(1.1e-7)]);
arrow([1366, 100], [xT(0.648), panels[1].yScale(1.63)]);

svg.append("rect").attr("x", 586.7).attr("y", 9.2).attr("width", 1032).attr("height", 95.6)
  .attr("fill", "#ffff00").attr("stroke", "#ff0000").attr("stroke-width", 4.5);
svg.append("text").attr("x", 623).attr("y", 79).attr("font-family", CAL).attr("font-weight", 700)
  .attr("font-size", 58).attr("fill", "#ff0000")
  .attr("textLength", 963).attr("lengthAdjust", "spacingAndGlyphs")
  .text("EFFECT OF A SINGLE ATOMIC DEFECT");
</script>
</body>
</html>
